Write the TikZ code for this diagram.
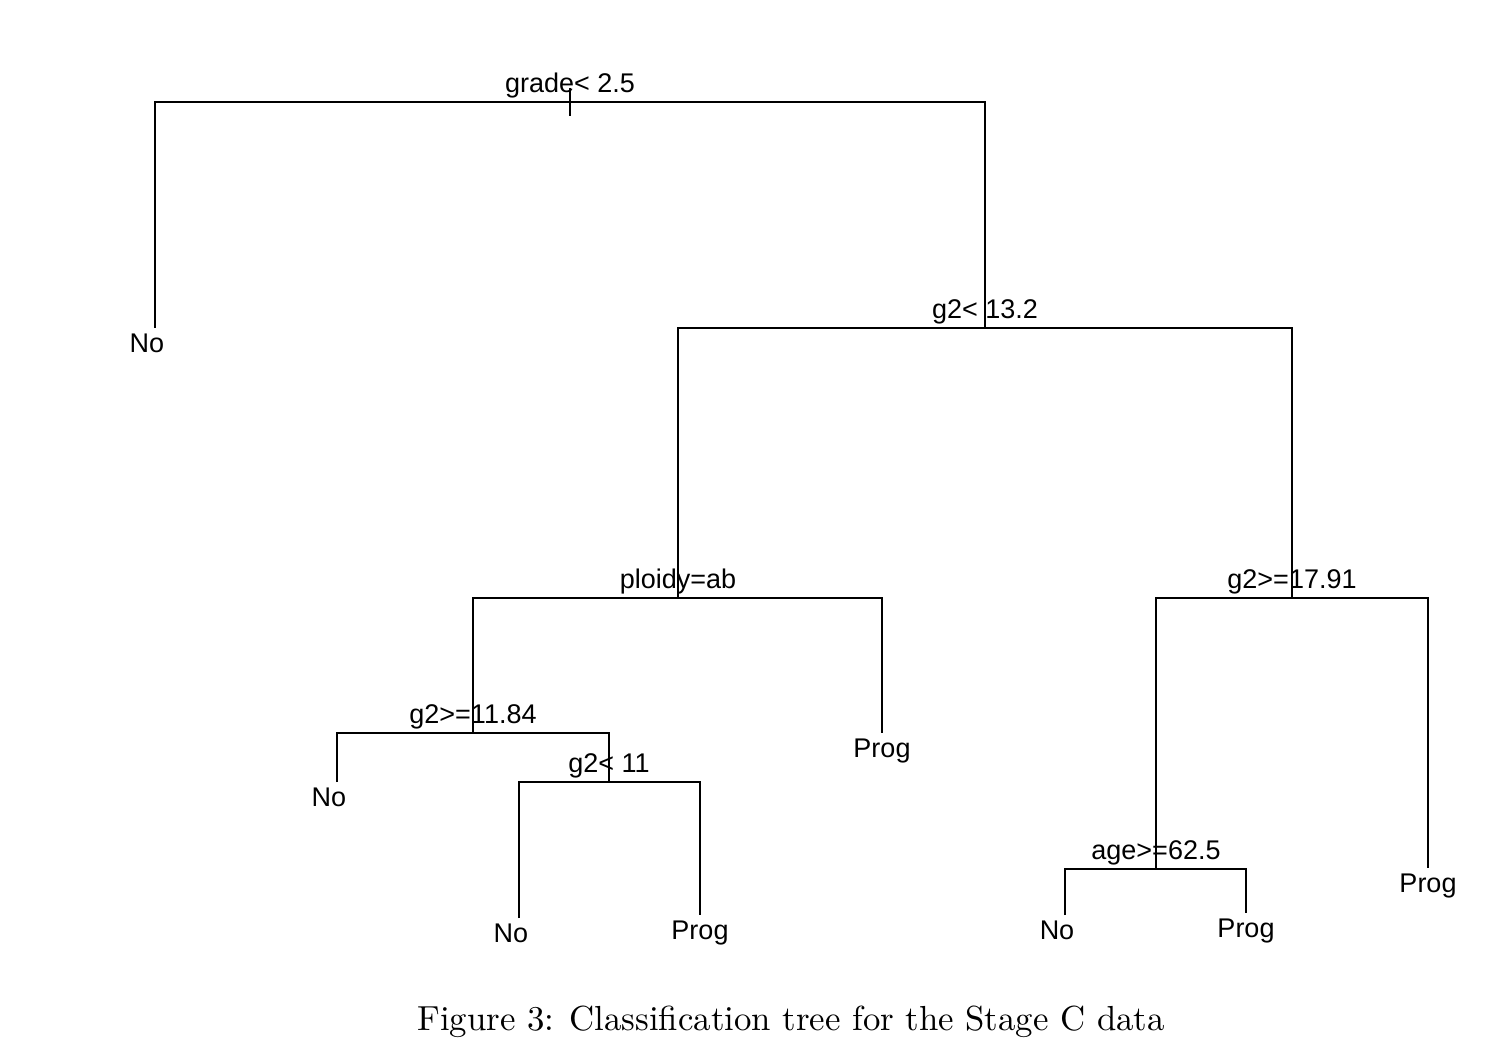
\documentclass[tikz,border=0pt]{standalone}
\usepackage{fontspec}
\newfontfamily\treefont{Liberation Sans}
\usetikzlibrary{positioning}

\begin{document}
\begin{tikzpicture}[x=0.5pt,y=-0.5pt,line width=0.9pt,
    split/.style={anchor=base,inner sep=0pt,yshift=4.8pt,
                  font=\treefont\fontsize{13.5}{16}\selectfont},
    leaf/.style={anchor=north,inner sep=0pt,yshift=-2.6pt,
                 font=\treefont\fontsize{13.5}{16}\selectfont},
    nolab/.style={leaf,xshift=-4pt}]
  \useasboundingbox (0,0) rectangle (1506,1064);
  % splits
  \coordinate (grade) at (570,102);
  \coordinate (gA) at (985,328);
  \coordinate (ploidy) at (678,598);
  \coordinate (gB) at (1292,598);
  \coordinate (gC) at (473,733);
  \coordinate (gD) at (609,782);
  \coordinate (age) at (1156,869);
  % leaves
  \coordinate (l1) at (155,328);
  \coordinate (l2) at (337,782);
  \coordinate (l3) at (519,918);
  \coordinate (l4) at (700,915);
  \coordinate (l5) at (882,733);
  \coordinate (l6) at (1065,915);
  \coordinate (l7) at (1246,913);
  \coordinate (l8) at (1428,868);

  \draw (l1) |- (grade) -| (gA);
  \draw ([yshift=7pt]grade) -- ([yshift=-7pt]grade);
  \draw (ploidy) |- (gA) -| (gB);
  \draw (gC) |- (ploidy) -| (l5);
  \draw (l2) |- (gC) -| (gD);
  \draw (l3) |- (gD) -| (l4);
  \draw (age) |- (gB) -| (l8);
  \draw (l6) |- (age) -| (l7);

  \node[split] (tgrade) at (grade) {grade< 2.5};
  \node[split] (tgA) at (gA) {g2< 13.2};
  \node[split] (tploidy) at (ploidy) {ploidy=ab};
  \node[split] (tgB) at (gB) {g2>=17.91};
  \node[split] (tgC) at (gC) {g2>=11.84};
  \node[split] (tgD) at (gD) {g2< 11};
  \node[split] (tage) at (age) {age>=62.5};

  \node[nolab] (t1) at (l1) {No};
  \node[nolab] (t2) at (l2) {No};
  \node[nolab] (t3) at (l3) {No};
  \node[leaf] (t4) at (l4) {Prog};
  \node[leaf] (t5) at (l5) {Prog};
  \node[nolab] (t6) at (l6) {No};
  \node[leaf] (t7) at (l7) {Prog};
  \node[leaf] (t8) at (l8) {Prog};

  \node[anchor=base,inner sep=0pt] (cap) at (791,1030)
       {\scalebox{1.74}{Figure 3: Classification tree for the Stage C data}};
\end{tikzpicture}
\end{document}
